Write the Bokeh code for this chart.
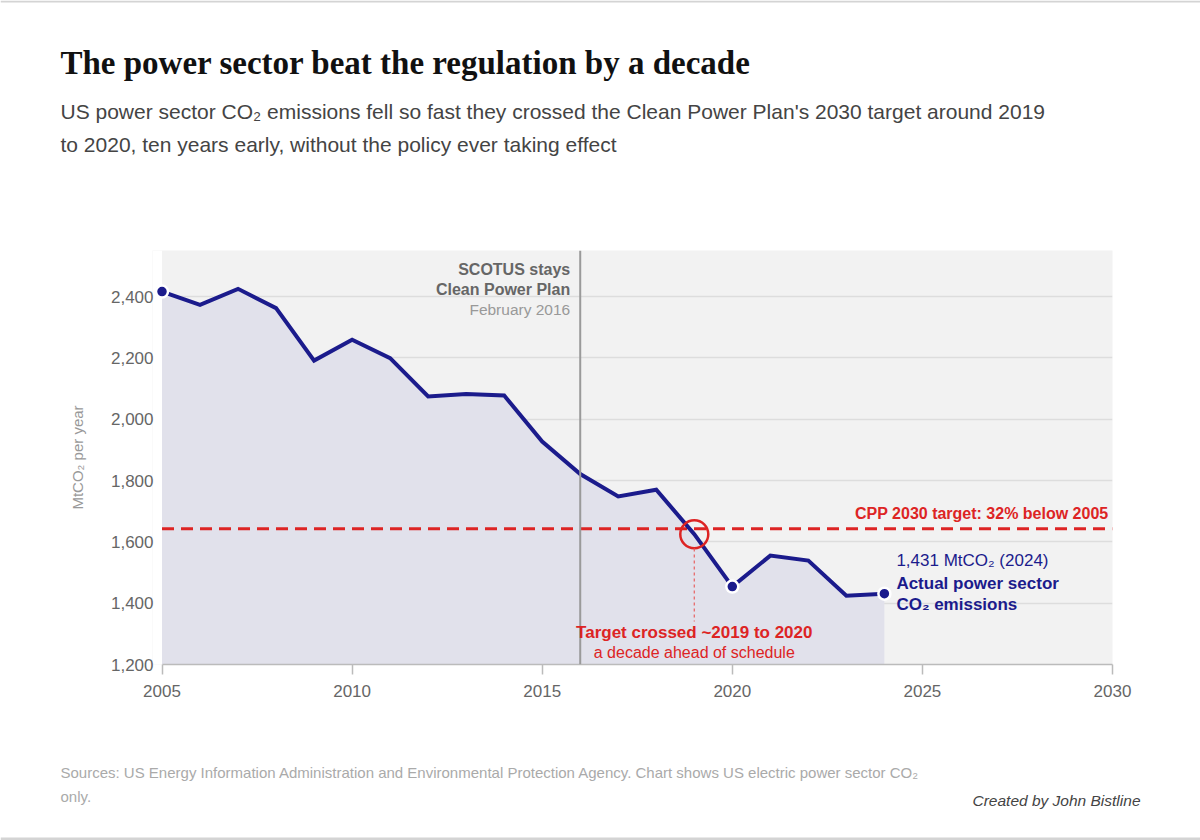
from bokeh.plotting import figure
from bokeh.layouts import column
from bokeh.models import Range1d, FixedTicker, NumeralTickFormatter, Span, Label, ColumnDataSource
from bokeh.core.properties import value
from bokeh.embed import file_html
from bokeh.resources import INLINE

# ---- data ----
years = list(range(2005, 2025))
emissions = [2416, 2373, 2425, 2362, 2191, 2259, 2199, 2074, 2082, 2077,
             1927, 1821, 1748, 1770, 1625, 1454, 1555, 1539, 1424, 1431]
highlight_years = [2005, 2020, 2024]
highlight_values = [2416, 1454, 1431]
target_value = 1643
scotus_year = 2016.0
cross_year = 2019
cross_value = 1625
x_ticks = [2005, 2010, 2015, 2020, 2025, 2030]
y_ticks = [1200, 1400, 1600, 1800, 2000, 2200, 2400]

TITLE = "The power sector beat the regulation by a decade"
SUB1 = "US power sector CO\u2082 emissions fell so fast they crossed the Clean Power Plan's 2030 target around 2019"
SUB2 = "to 2020, ten years early, without the policy ever taking effect"
FOOT1 = "Sources: US Energy Information Administration and Environmental Protection Agency. Chart shows US electric power sector CO\u2082"
FOOT2 = "only."
CREDIT = "Created by John Bistline"

SANS = "Liberation Sans"
NAVY = "#1b1b8c"
RED = "#dd2424"
W = 1200

# ---- page bands (page pixels) ----
HEAD_H, MAIN_H, FOOT_H = 200, 540, 100
FL, FR, FT, FB = 162, 1112, 250, 664      # visible plot area in page pixel coords
X0, X1, Y0, Y1 = 2005, 2030, 1200, 2550
PAD_YEARS = 0.25                          # small extra room left of 2005 so the first dot is not cut
PXY = (FR - FL) / (X1 - X0)               # pixels per year
FL_FRAME = int(round(FL - PAD_YEARS * PXY))


def text_band(top, height):
    f = figure(width=W, height=height, output_backend="svg", toolbar_location=None,
               x_range=Range1d(0, W), y_range=Range1d(top + height, top),
               x_axis_type=None, y_axis_type=None, min_border=0)
    f.frame_align = False
    f.outline_line_color = None
    f.xgrid.visible = False
    f.ygrid.visible = False
    f.background_fill_color = "white"
    f.border_fill_color = "white"
    return f


def band_text(f, text, px, py, size, color, style="normal", align="left", font=SANS):
    f.text(x=[px], y=[py], text=[text], text_font=value(font), text_font_size=value(size),
           text_color=color, text_font_style=style, text_align=align,
           text_baseline="alphabetic")


# header
head = text_band(0, HEAD_H)
head.segment(x0=[0], y0=[1], x1=[W], y1=[1], line_color="#d4d4d4", line_width=2)
band_text(head, TITLE, 60, 62, "33px", "#111111", "bold", font="Liberation Serif")
band_text(head, SUB1, 60, 111, "21px", "#444444")
band_text(head, SUB2, 60, 144, "21px", "#444444")

# main chart
p = figure(width=W, height=MAIN_H, output_backend="svg", toolbar_location=None,
           x_range=Range1d(X0 - PAD_YEARS, X1), y_range=Range1d(Y0, Y1),
           min_border_left=FL_FRAME, min_border_right=W - FR,
           min_border_top=FT - HEAD_H, min_border_bottom=HEAD_H + MAIN_H - FB)
p.frame_align = False
p.outline_line_color = None
p.background_fill_color = "#f2f2f2"
p.border_fill_color = "white"

p.xaxis.ticker = FixedTicker(ticks=x_ticks)
p.xaxis.bounds = (X0, X1)
p.yaxis.ticker = FixedTicker(ticks=y_ticks)
p.yaxis.formatter = NumeralTickFormatter(format="0,0")
p.xaxis.axis_line_color = "#bbbbbb"
p.xaxis.axis_line_width = 1.5
p.xaxis.major_tick_line_color = "#bbbbbb"
p.xaxis.major_tick_line_width = 1.5
p.xaxis.major_tick_out = 10
p.xaxis.major_tick_in = 0
p.xaxis.minor_tick_line_color = None
p.xaxis.major_label_standoff = 10
p.yaxis.axis_line_color = None
p.yaxis.major_tick_line_color = None
p.yaxis.minor_tick_line_color = None
p.yaxis.major_label_standoff = 3 - (FL - FL_FRAME)
p.yaxis.axis_label = "MtCO\u2082 per year"
p.yaxis.axis_label_text_font = SANS
p.yaxis.axis_label_text_font_size = "15px"
p.yaxis.axis_label_text_font_style = "normal"
p.yaxis.axis_label_text_color = "#999999"
p.yaxis.axis_label_standoff = 22
for ax in (p.xaxis, p.yaxis):
    ax.major_label_text_font = SANS
    ax.major_label_text_font_size = "17px"
    ax.major_label_text_color = "#666666"
p.xgrid.grid_line_color = None
p.ygrid.grid_line_color = "#dddddd"
p.ygrid.grid_line_width = 1.5
p.ygrid.ticker = FixedTicker(ticks=y_ticks[1:])


def X(px):
    return X0 + (px - FL) / PXY


def Y(py):
    return Y0 + (FB - py) * (Y1 - Y0) / (FB - FT)


# white strip left of 2005 (covers background and grid in the padding)
p.quad(left=[X0 - PAD_YEARS], right=[X0], bottom=[Y0], top=[Y1],
       fill_color="white", line_color=None)

src = ColumnDataSource(dict(x=years, y=emissions))
p.varea(x="x", y1=Y0, y2="y", source=src, fill_color="#e1e1eb")

p.add_layout(Span(location=scotus_year, dimension="height", line_color="#9a9a9a", line_width=2))
p.segment(x0=[X0], y0=[target_value], x1=[X1], y1=[target_value], line_color=RED,
          line_width=3, line_dash="12 7")

p.line(x="x", y="y", source=src, line_color=NAVY, line_width=4, line_join="miter")
p.scatter(x=highlight_years, y=highlight_values, size=12, fill_color=NAVY,
          line_color="white", line_width=2.5)

p.scatter(x=[cross_year], y=[cross_value], size=28, fill_color=None,
          line_color=RED, line_width=2.5)
p.segment(x0=[cross_year], y0=[Y(548)], x1=[cross_year], y1=[Y(621)],
          line_color="#e86060", line_width=1.2, line_dash="3 3")


def lab(text, px, py, size, color, style="normal", align="left"):
    p.add_layout(Label(x=X(px), y=Y(py), text=text, text_font=SANS,
                       text_font_size=size, text_color=color, text_font_style=style,
                       text_align=align, text_baseline="alphabetic"))


lab("SCOTUS stays", 570, 269, "16px", "#666666", "bold", align="right")
lab("Clean Power Plan", 570, 289, "16px", "#666666", "bold", align="right")
lab("February 2016", 570, 309, "15.5px", "#999999", align="right")

lab("CPP 2030 target: 32% below 2005", 1108, 513, "16px", RED, "bold", align="right")

lab("1,431 MtCO\u2082 (2024)", 896, 560, "17px", NAVY)
lab("Actual power sector", 896, 583, "17px", NAVY, "bold")
lab("CO\u2082 emissions", 896, 604, "17px", NAVY, "bold")

lab("Target crossed ~2019 to 2020", 694, 632, "17px", RED, "bold", align="center")
lab("a decade ahead of schedule", 694, 652, "16px", RED, align="center")

# footer
foot = text_band(HEAD_H + MAIN_H, FOOT_H)
band_text(foot, FOOT1, 60, 772, "15px", "#aaaaaa")
band_text(foot, FOOT2, 60, 796, "15px", "#aaaaaa")
band_text(foot, CREDIT, 1140, 800, "15.5px", "#444444", "italic", align="right")
foot.segment(x0=[0], y0=[838.5], x1=[W], y1=[838.5], line_color="#d4d4d4", line_width=3)

layout = column(head, p, foot, spacing=0)
open("out.html", "w").write(file_html(layout, INLINE))
